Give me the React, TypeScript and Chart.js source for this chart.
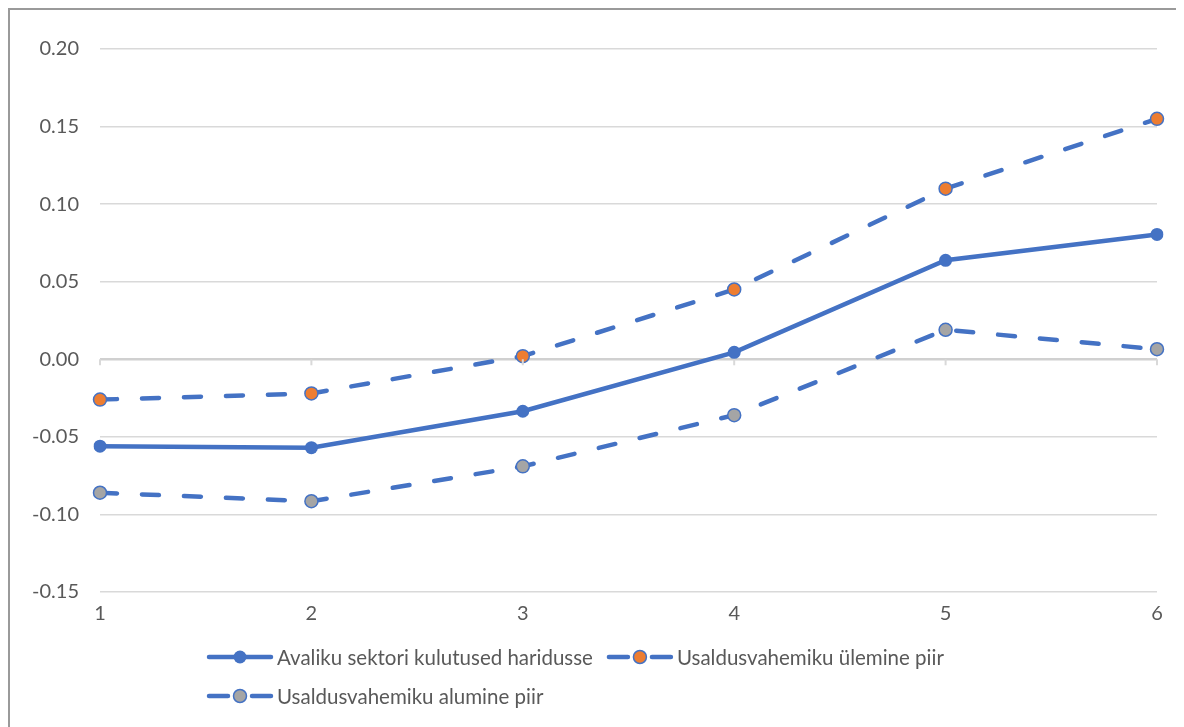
import React, { useEffect, useRef } from "react";
import { Chart, registerables } from "chart.js";

Chart.register(...registerables);

const categories = ["1", "2", "3", "4", "5", "6"];
const mainValues = [-0.056, -0.057, -0.0335, 0.0045, 0.0638, 0.0805];
const upperValues = [-0.026, -0.022, 0.002, 0.045, 0.11, 0.155];
const lowerValues = [-0.086, -0.0915, -0.069, -0.036, 0.019, 0.0065];
const seriesNames = [
  "Avaliku sektori kulutused haridusse",
  "Usaldusvahemiku ülemine piir",
  "Usaldusvahemiku alumine piir",
];
const yMin = -0.15;
const yMax = 0.2;
const yStep = 0.05;

const BLUE = "#4472C4";
const ORANGE = "#ED7D31";
const GRAY = "#A5A5A5";
const TEXT = "#595959";
const GRID = "#d9d9d9";
const FONT = "Lato, 'Open Sans', sans-serif";

const extrasPlugin = {
  id: "extras",
  afterDatasetsDraw(chart: any) {
    const ctx = chart.ctx;
    const x = chart.scales.x;
    const y = chart.scales.y;
    const y0 = y.getPixelForValue(0);
    ctx.save();
    ctx.strokeStyle = GRID;
    ctx.lineWidth = 2;
    categories.forEach((_, i) => {
      const px = x.getPixelForValue(i);
      ctx.beginPath();
      ctx.moveTo(px, y0);
      ctx.lineTo(px, y0 + 6);
      ctx.stroke();
    });
    ctx.restore();
  },
  afterDraw(chart: any) {
    const ctx = chart.ctx;
    ctx.save();
    ctx.font = `20.5px ${FONT}`;
    ctx.textBaseline = "middle";
    ctx.textAlign = "left";
    const drawMarker = (cx: number, cy: number, fill: string, hollow: boolean) => {
      ctx.beginPath();
      ctx.arc(cx, cy, 6.5, 0, Math.PI * 2);
      ctx.fillStyle = fill;
      ctx.fill();
      if (hollow) {
        ctx.lineWidth = 1.5;
        ctx.strokeStyle = BLUE;
        ctx.stroke();
      }
    };
    const drawItem = (sx: number, cy: number, idx: number) => {
      ctx.strokeStyle = BLUE;
      ctx.lineWidth = 4.5;
      ctx.lineCap = "round";
      if (idx === 0) {
        ctx.beginPath();
        ctx.moveTo(sx + 2, cy);
        ctx.lineTo(sx + 64, cy);
        ctx.stroke();
        drawMarker(sx + 33, cy, BLUE, false);
      } else {
        ctx.beginPath();
        ctx.moveTo(sx + 2, cy);
        ctx.lineTo(sx + 21, cy);
        ctx.moveTo(sx + 45, cy);
        ctx.lineTo(sx + 64, cy);
        ctx.stroke();
        drawMarker(sx + 33, cy, idx === 1 ? ORANGE : GRAY, true);
      }
      ctx.fillStyle = TEXT;
      ctx.fillText(seriesNames[idx], sx + 70, cy + 1);
      return sx + 70 + ctx.measureText(seriesNames[idx]).width;
    };
    const startX = 197;
    const end1 = drawItem(startX, 647, 0);
    drawItem(end1 + 14, 647, 1);
    drawItem(startX, 686, 2);
    ctx.restore();
  },
};

export default function App() {
  const ref = useRef<HTMLCanvasElement>(null);
  useEffect(() => {
    if (!ref.current) return;
    const dashed = {
      borderDash: [17, 25],
      borderCapStyle: "round" as const,
    };
    const chart = new Chart(ref.current, {
      type: "line",
      data: {
        labels: categories,
        datasets: [
          {
            label: seriesNames[0],
            data: mainValues,
            borderColor: BLUE,
            backgroundColor: BLUE,
            borderWidth: 4.5,
            pointRadius: 6.5,
            pointBackgroundColor: BLUE,
            pointBorderColor: BLUE,
            pointBorderWidth: 0,
            tension: 0,
          },
          {
            label: seriesNames[1],
            data: upperValues,
            borderColor: BLUE,
            backgroundColor: ORANGE,
            borderWidth: 4.5,
            pointRadius: 6.5,
            pointBackgroundColor: ORANGE,
            pointBorderColor: BLUE,
            pointBorderWidth: 1.5,
            tension: 0,
            ...dashed,
          },
          {
            label: seriesNames[2],
            data: lowerValues,
            borderColor: BLUE,
            backgroundColor: GRAY,
            borderWidth: 4.5,
            pointRadius: 6.5,
            pointBackgroundColor: GRAY,
            pointBorderColor: BLUE,
            pointBorderWidth: 1.5,
            tension: 0,
            ...dashed,
          },
        ],
      },
      options: {
        animation: false,
        responsive: false,
        maintainAspectRatio: false,
        layout: { padding: { top: 39, right: 27, bottom: 105, left: 0 } },
        plugins: {
          legend: { display: false },
          tooltip: { enabled: false },
        },
        scales: {
          x: {
            offset: false,
            grid: { display: false, drawTicks: false },
            border: { display: false },
            ticks: {
              color: TEXT,
              font: { family: FONT, size: 20 },
              padding: 10,
              maxRotation: 0,
            },
            afterFit: (s: any) => {
              s.height = 30;
            },
          },
          y: {
            min: yMin,
            max: yMax,
            grid: {
              drawTicks: false,
              color: (c: any) => (c.tick && Math.abs(c.tick.value) < 1e-9 ? "#d0d0d0" : GRID),
              lineWidth: (c: any) => (c.tick && Math.abs(c.tick.value) < 1e-9 ? 2.5 : 1.5),
            },
            border: { display: false },
            ticks: {
              stepSize: yStep,
              color: TEXT,
              font: { family: FONT, size: 20 },
              padding: 21,
              callback: (v: any) => Number(v).toFixed(2),
            },
            afterFit: (s: any) => {
              s.width = 90;
            },
          },
        },
      },
      plugins: [extrasPlugin],
    });
    return () => chart.destroy();
  }, []);
  return (
    <div
      style={{
        width: 1176,
        height: 719,
        borderLeft: "2px solid #9a9a9a",
        borderTop: "2px solid #9a9a9a",
        boxSizing: "border-box",
        overflow: "hidden",
        background: "#fff",
      }}
    >
      <canvas ref={ref} width={1174} height={717} style={{ display: "block" }} />
    </div>
  );
}
